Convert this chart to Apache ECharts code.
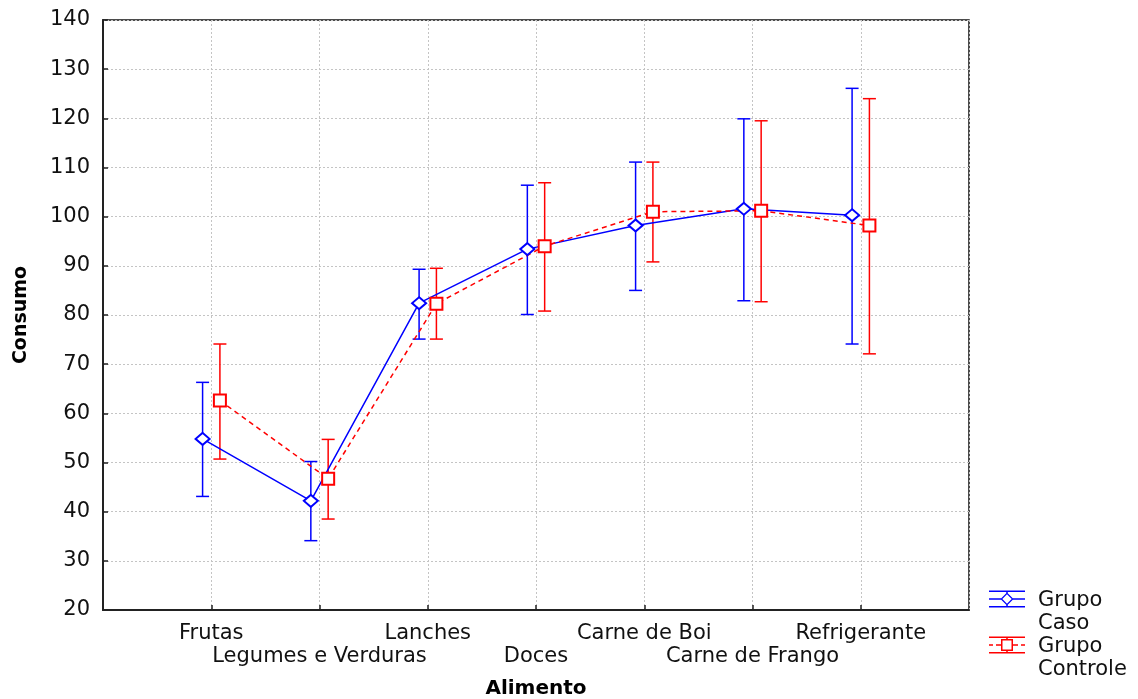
<!DOCTYPE html>
<html>
<head>
<meta charset="utf-8">
<script src="https://cdn.jsdelivr.net/npm/echarts@6/dist/echarts.min.js"></script>
<style>
html,body{margin:0;padding:0;background:#fff;}
#chart{width:1138px;height:699px;}
</style>
</head>
<body>
<div id="chart"></div>
<script>
const categories = ['Frutas', 'Legumes e Verduras', 'Lanches', 'Doces', 'Carne de Boi', 'Carne de Frango', 'Refrigerante'];
const casoMean = [54.8, 42.2, 82.4, 93.4, 98.2, 101.6, 100.3];
const casoLow = [43.1, 34.1, 75.1, 80.1, 85.0, 82.9, 74.1];
const casoHigh = [66.3, 50.2, 89.3, 106.4, 111.1, 119.9, 126.1];
const controleMean = [62.6, 46.7, 82.3, 94.0, 101.0, 101.2, 98.2];
const controleLow = [50.7, 38.5, 75.1, 80.8, 90.8, 82.7, 72.1];
const controleHigh = [74.1, 54.7, 89.5, 106.9, 111.1, 119.5, 124.0];
const yMin = 20, yMax = 140, yStep = 10;
const seriesNames = ['Grupo\nCaso', 'Grupo\nControle'];

const BLUE = '#0000ff', RED = '#ff0000';
const OFFSET = 0.08;
const FONT = 'DejaVu Sans';

function pts(mean, off) { return mean.map((v, i) => [i + 1 + off, v]); }
function bars(lo, hi, off) { return lo.map((v, i) => [i + 1 + off, v, hi[i]]); }

function errRender(color) {
  return function (params, api) {
    const x = api.value(0);
    const lo = api.coord([x, api.value(1)]);
    const hi = api.coord([x, api.value(2)]);
    const hw = 6.5;
    const st = { stroke: color, lineWidth: 1.5 };
    return {
      type: 'group',
      children: [
        { type: 'line', shape: { x1: lo[0], y1: lo[1], x2: hi[0], y2: hi[1] }, style: st },
        { type: 'line', shape: { x1: hi[0] - hw, y1: hi[1], x2: hi[0] + hw, y2: hi[1] }, style: st },
        { type: 'line', shape: { x1: lo[0] - hw, y1: lo[1], x2: lo[0] + hw, y2: lo[1] }, style: st }
      ]
    };
  };
}

const casoIcon = 'path://M0,3H36V4.5H0Z M0,18.5H36V20H0Z M17.25,3H18.75V6H17.25Z M17.25,17H18.75V20H17.25Z M0,10.75H12V12.25H0Z M24,10.75H36V12.25H24Z M18,5L24.5,11.5L18,18L11.5,11.5Z M18,6.8L13.3,11.5L18,16.2L22.7,11.5Z M35.95,45.95H36V46H35.95Z';
const ctrlIcon = 'path://M0,3H36V4.5H0Z M0,18.5H36V20H0Z M17.25,3H18.75V5.5H17.25Z M17.25,17.5H18.75V20H17.25Z M0,10.75H4V12.25H0Z M7,10.75H12V12.25H7Z M24,10.75H29V12.25H24Z M32,10.75H36V12.25H32Z M12,5.5H24V17.5H12Z M13.5,7V16H22.5V7Z M35.95,45.95H36V46H35.95Z';

const chart = echarts.init(document.getElementById('chart'), null, { renderer: 'canvas' });
const option = {
  animation: false,
  backgroundColor: '#fff',
  textStyle: { fontFamily: FONT },
  grid: { left: 103, right: 169, top: 20, bottom: 89, show: true, borderColor: '#111', borderWidth: 1.5, containLabel: false, outerBoundsMode: 'none' },
  legend: {
    orient: 'vertical', left: 984, top: 584,
    itemWidth: 36, itemHeight: 46, itemGap: 0,
    data: [{ name: seriesNames[0], icon: casoIcon, itemStyle: { color: BLUE, borderWidth: 0 } },
           { name: seriesNames[1], icon: ctrlIcon, itemStyle: { color: RED, borderWidth: 0 } }],
    textStyle: { fontFamily: FONT, fontSize: 21, lineHeight: 23, color: '#111', padding: [0, 0, 0, 8] }
  },
  xAxis: {
    type: 'value', min: 0, max: 8, interval: 1,
    name: 'Alimento', nameLocation: 'middle', nameGap: 69,
    nameTextStyle: { fontFamily: FONT, fontSize: 20, fontWeight: 'bold', color: '#000' },
    axisLine: { show: true, lineStyle: { color: '#222', width: 2 } },
    axisTick: { show: true, inside: true, length: 5, lineStyle: { color: '#222', width: 1.5 } },
    splitLine: { show: true, lineStyle: { color: '#c4c4c4', type: [2, 2], width: 1 } },
    axisLabel: {
      margin: 12, fontFamily: FONT, fontSize: 21, lineHeight: 23, color: '#111',
      showMinLabel: false, showMaxLabel: false,
      formatter: function (v) {
        const i = Math.round(v) - 1;
        if (i < 0 || i >= categories.length) return '';
        return (i % 2 ? '\n' : '') + categories[i];
      }
    }
  },
  yAxis: {
    type: 'value', min: yMin, max: yMax, interval: yStep,
    name: 'Consumo', nameLocation: 'middle', nameGap: 72,
    nameTextStyle: { fontFamily: FONT, fontSize: 19, fontWeight: 'bold', color: '#000' },
    axisLine: { show: true, lineStyle: { color: '#222', width: 2 } },
    axisTick: { show: true, inside: true, length: 5, lineStyle: { color: '#222', width: 1.5 } },
    splitLine: { show: true, lineStyle: { color: '#c4c4c4', type: [2, 2], width: 1 } },
    axisLabel: { margin: 13, fontFamily: FONT, fontSize: 21, color: '#111' }
  },
  series: [
    {
      name: seriesNames[0], type: 'custom', renderItem: errRender(BLUE),
      data: bars(casoLow, casoHigh, -OFFSET), encode: { x: 0, y: [1, 2] }, z: 2,
      itemStyle: { color: BLUE }
    },
    {
      name: seriesNames[1], type: 'custom', renderItem: errRender(RED),
      data: bars(controleLow, controleHigh, OFFSET), encode: { x: 0, y: [1, 2] }, z: 2,
      itemStyle: { color: RED }
    },
    {
      name: seriesNames[0], type: 'line', data: pts(casoMean, -OFFSET), z: 3,
      symbol: 'emptyDiamond', symbolSize: [14, 12], showAllSymbol: true,
      lineStyle: { color: BLUE, width: 1.5 },
      itemStyle: { color: BLUE, borderWidth: 1.5 }
    },
    {
      name: seriesNames[1], type: 'line', data: pts(controleMean, OFFSET), z: 3,
      symbol: 'emptyRect', symbolSize: [12, 12], showAllSymbol: true,
      lineStyle: { color: RED, width: 1.5, type: [5, 4] },
      itemStyle: { color: RED, borderWidth: 1.5 }
    }
  ]
};
chart.setOption(option);
</script>
</body>
</html>
